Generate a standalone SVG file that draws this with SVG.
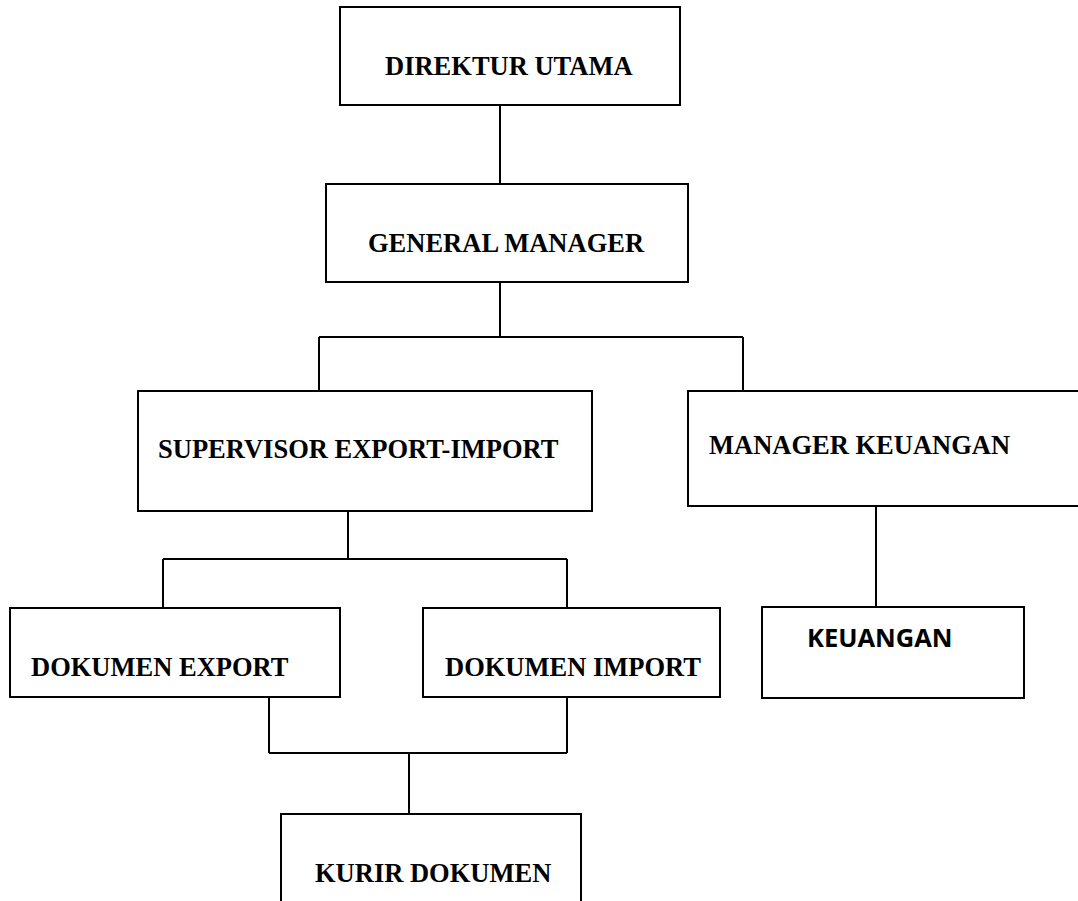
<svg xmlns="http://www.w3.org/2000/svg" width="1078" height="901" viewBox="0 0 1078 901">
<style>
.box{fill:#fff;stroke:#000;stroke-width:2}
.t{font-family:"Liberation Serif","Times New Roman",serif;font-weight:bold;font-size:26.5px;fill:#000}
.s{font-family:"Open Sans","Noto Sans",sans-serif;font-weight:bold;font-size:25.5px;fill:#000}
.c{fill:none;stroke:#000;stroke-width:2}
</style>
<rect width="1078" height="901" fill="#fff"/>
<g id="connectors">
<path class="c" d="M500 105V184"/>
<path class="c" d="M500 282V337M319 337H743M319 337V391M743 337V391"/>
<path class="c" d="M876 506V607"/>
<path class="c" d="M348 511V559M163 559H567M163 559V608M567 559V608"/>
<path class="c" d="M269 697V753M567 697V753M269 753H567M409 753V814"/>
</g>
<g id="direktur-utama"><rect class="box" x="340" y="7" width="340" height="98"/><text class="t" x="385" y="75">DIREKTUR UTAMA</text></g>
<g id="general-manager"><rect class="box" x="326" y="184" width="362" height="98"/><text class="t" x="368" y="252">GENERAL MANAGER</text></g>
<g id="supervisor"><rect class="box" x="138" y="391" width="454" height="120"/><text class="t" x="158" y="458">SUPERVISOR EXPORT-IMPORT</text></g>
<g id="manager-keuangan"><rect class="box" x="688" y="391" width="400" height="115"/><text class="t" x="709" y="454">MANAGER KEUANGAN</text></g>
<g id="keuangan"><rect class="box" x="762" y="607" width="262" height="91"/><text class="s" x="807" y="647">KEUANGAN</text></g>
<g id="dokumen-export"><rect class="box" x="10" y="608" width="330" height="89"/><text class="t" x="31" y="676">DOKUMEN EXPORT</text></g>
<g id="dokumen-import"><rect class="box" x="423" y="608" width="297" height="89"/><text class="t" x="445" y="676">DOKUMEN IMPORT</text></g>
<g id="kurir-dokumen"><rect class="box" x="281" y="814" width="300" height="100"/><text class="t" x="315" y="882">KURIR DOKUMEN</text></g>
</svg>
